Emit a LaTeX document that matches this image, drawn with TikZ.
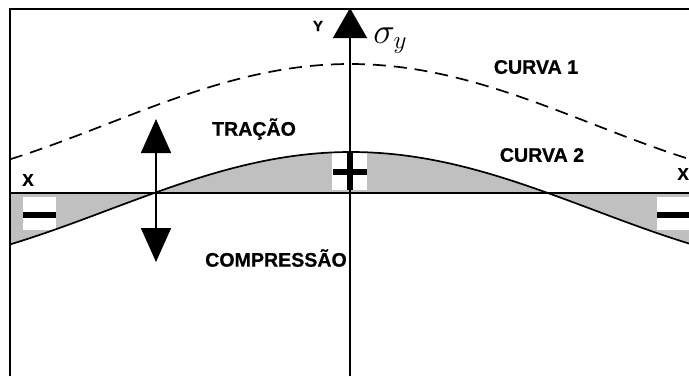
\documentclass[tikz,border=0pt]{standalone}
\usepackage{fontspec}
\setsansfont{Liberation Sans}[BoldFeatures={FakeBold=0.6}]
\usetikzlibrary{arrows.meta}
\definecolor{fillgray}{RGB}{192,192,192}
\tikzset{
  lbl/.style={font=\sffamily\bfseries\fontsize{19.6}{20}\selectfont, inner sep=0pt},
  small/.style={font=\sffamily\bfseries\fontsize{17}{17}\selectfont, inner sep=0pt},
  frame/.style={line width=2.5pt},
  axis/.style={line width=1.6pt},
  curve/.style={line width=1.7pt},
  signbox/.style={fill=white},
  bigtip/.style={-{Triangle[width=34pt,length=30pt]}},
  dbltip/.style={{Triangle[width=30pt,length=34pt]}-{Triangle[width=30pt,length=34pt]}}
}
\begin{document}
\begin{tikzpicture}[x=1pt,y=-1pt]
\useasboundingbox (0,0) rectangle (689,376);
% gray region between curve 2 and x-axis
\fill[fillgray] plot[domain=10:689,samples=120] (\x,{152+58*(1-cos(0.3707*(\x-351)))}) -- (689,193) -- (10,193) -- cycle;
% sign boxes
\fill[signbox] (23,197) rectangle (56,230);
\fill[signbox] (332,153) rectangle (367,190);
\fill[signbox] (657,197) rectangle (689,230);
% curves
\draw[curve] plot[domain=10:689,samples=120] (\x,{152+58*(1-cos(0.3707*(\x-351)))});
\draw[curve,dash pattern=on 13pt off 8pt] plot[domain=10:689,samples=120] (\x,{64+60*(1-cos(0.3707*(\x-350)))});
% frame
\draw[frame] (10,376) -- (10,9) -- (689,9);
% axes
\coordinate (xl) at (10,193);
\coordinate (xr) at (689,193);
\coordinate (yb) at (350,376);
\coordinate (yt) at (350,8);
\draw[axis] (xl) -- (xr);
\draw[axis,bigtip] (yb) -- (yt);
% signs
\fill (23,212) rectangle (56,218);
\fill (657,212) rectangle (689,218);
\fill (333,169) rectangle (367,175);
\fill (347,153) rectangle (353,190);
% double arrow
\coordinate (ab) at (156,262);
\coordinate (at) at (156,119);
\draw[axis,dbltip] (ab) -- (at);
% labels
\node[lbl] (tr) at (254,129) {TRAÇÃO};
\node[lbl] (co) at (276,258) {COMPRESSÃO};
\node[lbl] (c1) at (536,67) {CURVA 1};
\node[lbl] (c2) at (542,155) {CURVA 2};
\node[small] (xa) at (28,180) {X};
\node[small,anchor=east] (xb) at (689,174) {X};
\node[small,font=\sffamily\bfseries\fontsize{15}{15}\selectfont] (ya) at (318,26) {Y};
\node[inner sep=0pt,anchor=base west,scale=1.75,font=\fontsize{20}{20}\selectfont] (sg) at (373,43) {$\sigma_y$};
\end{tikzpicture}
\end{document}
